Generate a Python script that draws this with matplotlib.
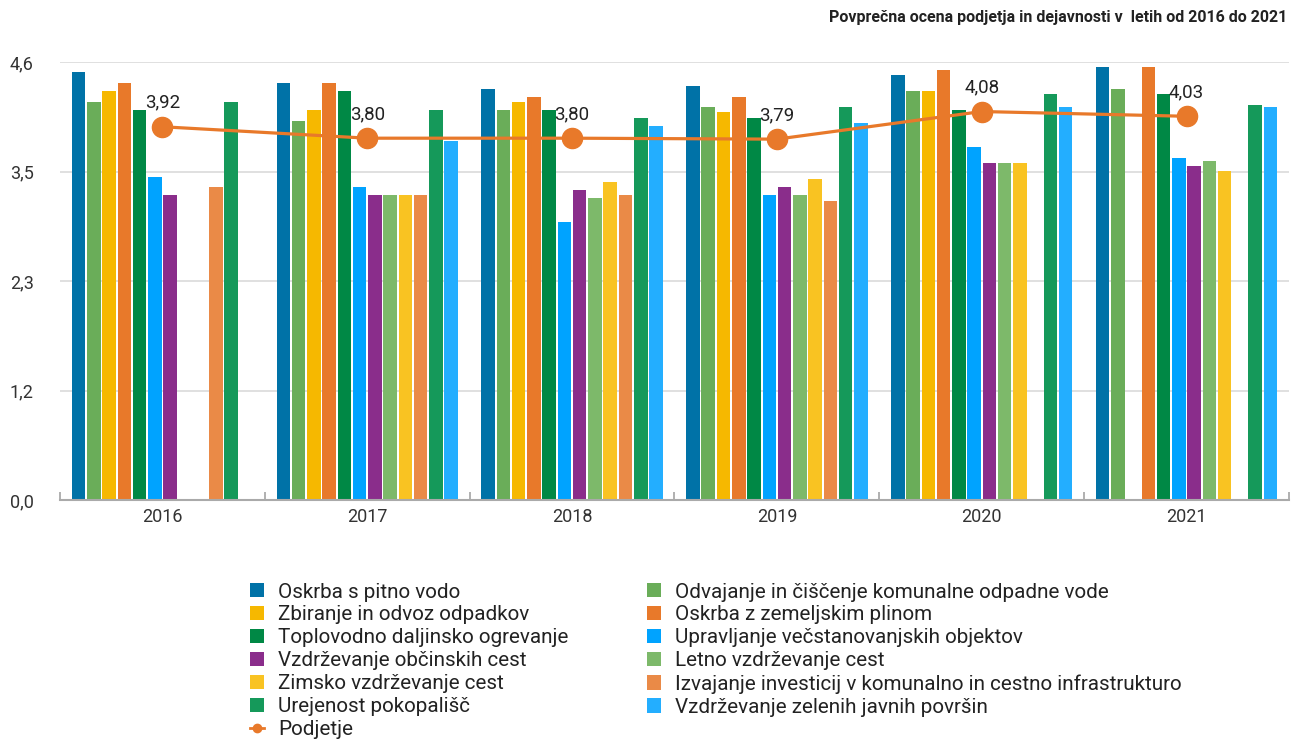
import numpy as np
import matplotlib.pyplot as plt
from matplotlib.lines import Line2D
from matplotlib.patches import Patch

plt.rcParams['font.family'] = ['Roboto', 'DejaVu Sans']

years = ['2016', '2017', '2018', '2019', '2020', '2021']

series_names = [
    'Oskrba s pitno vodo',
    'Odvajanje in čiščenje komunalne odpadne vode',
    'Zbiranje in odvoz odpadkov',
    'Oskrba z zemeljskim plinom',
    'Toplovodno daljinsko ogrevanje',
    'Upravljanje večstanovanjskih objektov',
    'Vzdrževanje občinskih cest',
    'Letno vzdrževanje cest',
    'Zimsko vzdrževanje cest',
    'Izvajanje investicij v komunalno in cestno infrastrukturo',
    'Urejenost pokopališč',
    'Vzdrževanje zelenih javnih površin',
]

series_colors = [
    '#0072A7', '#6AAD59', '#F6B800', '#E8792A', '#008845', '#00A3FF',
    '#8A2D8B', '#7DB96A', '#F9C322', '#EA8A47', '#15995A', '#23AEFF',
]

nan = np.nan
oskrba_voda  = [4.49, 4.38, 4.32, 4.35, 4.46, 4.55]
odvajanje    = [4.18, 3.98, 4.10, 4.13, 4.30, 4.32]
zbiranje     = [4.30, 4.10, 4.18, 4.07, 4.30, nan]
plin         = [4.38, 4.38, 4.23, 4.23, 4.52, 4.55]
toplovodno   = [4.10, 4.30, 4.10, 4.01, 4.10, 4.26]
upravljanje  = [3.39, 3.29, 2.92, 3.20, 3.71, 3.59]
obcinske     = [3.20, 3.20, 3.26, 3.29, 3.54, 3.51]
letno        = [nan, 3.20, 3.17, 3.20, 3.54, 3.56]
zimsko       = [nan, 3.20, 3.34, 3.37, 3.54, 3.46]
investicije  = [3.29, 3.20, 3.20, 3.14, nan, nan]
pokopalisca  = [4.18, 4.10, 4.01, 4.13, 4.26, 4.15]
zelene       = [nan, 3.77, 3.93, 3.96, 4.13, 4.13]

podjetje = [3.92, 3.80, 3.80, 3.79, 4.08, 4.03]

all_series = [oskrba_voda, odvajanje, zbiranje, plin, toplovodno, upravljanje,
              obcinske, letno, zimsko, investicije, pokopalisca, zelene]

yticks = [0, 1.15, 2.3, 3.45, 4.6]
ytick_labels = ['0,0', '1,2', '2,3', '3,5', '4,6']

fig = plt.figure(figsize=(12.93, 7.40), dpi=100)
ax = fig.add_axes([0.0464, 0.3243, 0.9505, 0.5919])

x = np.arange(len(years))
step = 0.0745
width = 0.066
n = len(all_series)
for i, (vals, col) in enumerate(zip(all_series, series_colors)):
    vals = np.array(vals, dtype=float)
    ok = ~np.isnan(vals)
    pos = x + (i - (n - 1) / 2) * step
    ax.bar(pos[ok], vals[ok], width=width, color=col, zorder=2)

line_col = '#E8792A'
ax.plot(x, podjetje, color=line_col, lw=2.3, marker='o', ms=14.5, zorder=4)
for xi, v in zip(x, podjetje):
    ax.annotate(f'{v:.2f}'.replace('.', ','), (xi, v), xytext=(0, 11),
                textcoords='offset points', ha='center', va='bottom',
                fontsize=13.5, color='#222222', zorder=5)

ax.set_xlim(-0.5, len(years) - 0.5)
ax.set_ylim(0, 4.6)
ax.set_yticks(yticks)
ax.set_yticklabels(ytick_labels)
ax.set_xticks(x)
ax.set_xticklabels(years)
ax.set_xticks(np.arange(-0.5, len(years)), minor=True)

ax.grid(axis='y', color='#DDDDDD', lw=1.3, zorder=0)
ax.set_axisbelow(True)
for s in ['top', 'right', 'left']:
    ax.spines[s].set_visible(False)
ax.spines['bottom'].set_color('#AAAAAA')
ax.spines['bottom'].set_linewidth(1.5)

ax.tick_params(axis='y', length=0, pad=19, labelsize=13, labelcolor='#333333')
ax.tick_params(axis='x', which='major', length=0, pad=6, labelsize=13,
               labelcolor='#333333')
ax.tick_params(axis='x', which='minor', direction='in', length=6,
               width=1.3, color='#AAAAAA')

fig.text(0.9954, 0.977, 'Povprečna ocena podjetja in dejavnosti v  letih od 2016 do 2021',
         ha='right', va='center', fontsize=11.5, fontweight='bold', color='#222222')

# legend filled column by column: left column gets even series + line
patches = [Patch(facecolor=c, edgecolor='none', label=nm)
           for nm, c in zip(series_names, series_colors)]
line_handle = Line2D([], [], color=line_col, lw=2, marker='o', ms=6, label='Podjetje')
handles = patches[0::2] + [line_handle] + patches[1::2]
fig.legend(handles=handles, loc='upper left', bbox_to_anchor=(0.1933, 0.2128),
           ncol=2, frameon=False, fontsize=14.9, handlelength=0.68, handleheight=0.68,
           handletextpad=0.68, columnspacing=3.8, labelspacing=0.19,
           borderpad=0, borderaxespad=0, labelcolor='#222222')

fig.savefig('out.png', dpi=100)
